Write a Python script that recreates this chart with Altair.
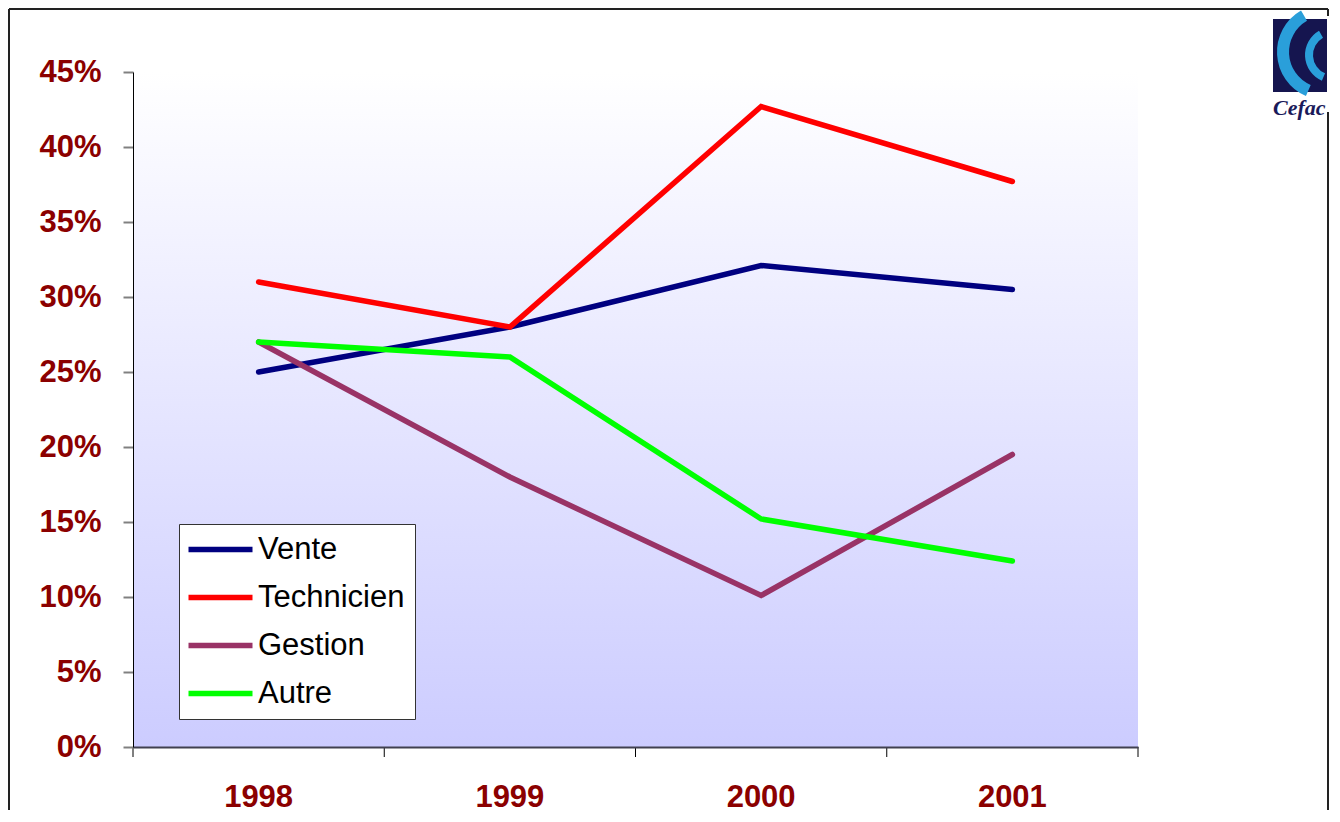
import altair as alt
import pandas as pd

years = [1998, 1999, 2000, 2001]
series = ["Vente", "Technicien", "Gestion", "Autre"]
vente = [0.25, 0.28, 0.321, 0.305]
technicien = [0.31, 0.28, 0.427, 0.377]
gestion = [0.27, 0.18, 0.101, 0.195]
autre = [0.27, 0.26, 0.152, 0.124]
colors = ["#000080", "#FF0000", "#993366", "#00FF00"]
y_ticks = [0.0, 0.05, 0.10, 0.15, 0.20, 0.25, 0.30, 0.35, 0.40, 0.45]
x_bounds = [1997.5, 1998.5, 1999.5, 2000.5, 2001.5]

rows = []
for name, vals in zip(series, [vente, technicien, gestion, autre]):
    for yr, v in zip(years, vals):
        rows.append({"serie": name, "year": yr, "value": v})
df = pd.DataFrame(rows)

W, H = 1005, 675
one = alt.Data(values=[{}])
LABEL_COLOR = "#8B0000"
x_scale = alt.Scale(domain=[1997.5, 2001.5], nice=False, zero=False)
x_axis = alt.Axis(title=None, grid=False, labels=False, ticks=False,
                  domainColor="#404050", domainWidth=2, zindex=1)

bg = alt.Chart(one).mark_rect(
    fill=alt.Gradient(
        gradient="linear", x1=0, x2=0, y1=0, y2=1,
        stops=[alt.GradientStop(offset=0, color="#FFFFFF"),
               alt.GradientStop(offset=1, color="#CCCCFF")],
    )
).encode(x=alt.value(0), x2=alt.value(W), y=alt.value(0), y2=alt.value(H))

frame_left = alt.Chart(one).mark_rule(color="#222222", strokeWidth=2).encode(
    x=alt.value(-124), y=alt.value(-63), y2=alt.value(738))
frame_top = alt.Chart(one).mark_rule(color="#222222", strokeWidth=2).encode(
    x=alt.value(-124), x2=alt.value(1195), y=alt.value(-63))
frame_tr = alt.Chart(one).mark_rule(color="#222222", strokeWidth=2).encode(
    x=alt.value(1195), y=alt.value(-63), y2=alt.value(-56))
frame_right = alt.Chart(one).mark_rule(color="#222222", strokeWidth=2).encode(
    x=alt.value(1195), y=alt.value(40), y2=alt.value(738))

logo_rect = alt.Chart(one).mark_rect(color="#15154F").encode(
    x=alt.value(1140), x2=alt.value(1194), y=alt.value(-53), y2=alt.value(20))
logo_arc1 = alt.Chart(one).mark_arc(color="#2A9FDA", radius=48, radius2=36,
                                    theta=3.55, theta2=5.76).encode(
    x=alt.value(1192), y=alt.value(-20))
logo_arc2 = alt.Chart(one).mark_arc(color="#2A9FDA", radius=28, radius2=20,
                                    theta=3.55, theta2=5.76).encode(
    x=alt.value(1200), y=alt.value(-17))
logo_text = alt.Chart(one).mark_text(text="Cefac", font="Liberation Serif", fontStyle="italic",
                                     fontWeight="bold", fontSize=22, color="#1A1A5A",
                                     align="left", baseline="alphabetic").encode(
    x=alt.value(1140), y=alt.value(43))

# category-boundary ticks below the x axis
xticks = alt.Chart(pd.DataFrame({"year": x_bounds})).mark_rule(
    color="#000000", strokeWidth=1).encode(
    x=alt.X("year:Q", scale=x_scale, axis=x_axis),
    y=alt.value(H), y2=alt.value(H + 10))

# year labels under each category
xlabels = alt.Chart(pd.DataFrame({"year": years})).mark_text(
    font="Liberation Sans", fontSize=31, fontWeight="bold", color=LABEL_COLOR,
    align="center", baseline="alphabetic").encode(
    x=alt.X("year:Q", scale=x_scale, axis=x_axis),
    y=alt.value(H + 60),
    text=alt.Text("year:Q", format="d"))

lines = alt.Chart(df).mark_line(strokeWidth=5.5, strokeCap="round").encode(
    x=alt.X("year:Q", scale=x_scale, axis=x_axis),
    y=alt.Y("value:Q", scale=alt.Scale(domain=[0, 0.45], nice=False),
            axis=alt.Axis(values=y_ticks, title=None, grid=False, format=".0%",
                          labelFont="Liberation Sans", labelFontSize=31, labelFontWeight="bold",
                          labelColor=LABEL_COLOR, labelPadding=22, labelOverlap=False,
                          labelFlush=False, tickSize=10, tickColor="#808080", tickWidth=2,
                          domainColor="#000000", domainWidth=1, zindex=1)),
    color=alt.Color("serie:N", sort=series,
                    scale=alt.Scale(domain=series, range=colors),
                    legend=alt.Legend(title=None, orient="none", legendX=46, legendY=452,
                                      direction="vertical", symbolType="M-8,0H8",
                                      symbolSize=64, symbolStrokeWidth=5.5, symbolOffset=16,
                                      labelOffset=22, labelFont="Liberation Sans",
                                      labelFontSize=31, labelColor="#000000", padding=10,
                                      rowPadding=16, fillColor="#FFFFFF",
                                      strokeColor="#333333", labelLimit=400)),
)

chart = alt.layer(
    bg, frame_left, frame_top, frame_tr, frame_right,
    logo_rect, logo_arc1, logo_arc2, logo_text, xticks, xlabels, lines
).properties(width=W, height=H, padding=0).configure_view(stroke=None)

chart.save("out.html", embed_options={"renderer": "svg", "actions": False})
